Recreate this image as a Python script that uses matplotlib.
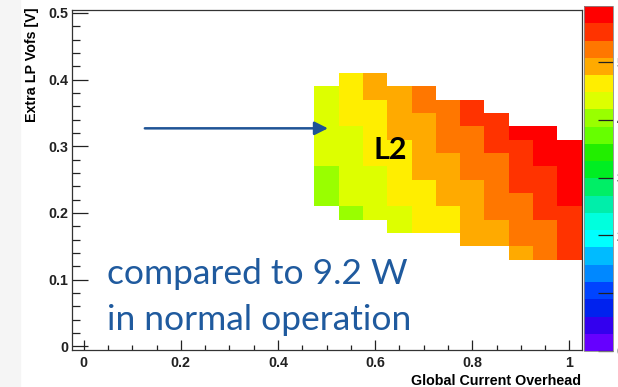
import numpy as np
import matplotlib.pyplot as plt
from matplotlib.colors import ListedColormap, BoundaryNorm
from matplotlib.patches import Rectangle

# bin centres of the 2D histogram
x_centers = [0.50, 0.55, 0.60, 0.65, 0.70, 0.75, 0.80, 0.85, 0.90, 0.95, 1.00]
y_centers = [0.40, 0.38, 0.36, 0.34, 0.32, 0.30, 0.28, 0.26, 0.24, 0.22, 0.20, 0.18, 0.16, 0.14]
nan = np.nan

# power per bin [W], one row per y bin (top first), nan = empty bin
power = [
    # 0.50 0.55 0.60 0.65 0.70 0.75 0.80 0.85 0.90 0.95 1.00
    [nan, 4.6, 4.9, nan, nan, nan, nan, nan, nan, nan, nan],  # 0.40
    [4.3, 4.6, 4.9, 4.9, 5.2, nan, nan, nan, nan, nan, nan],  # 0.38
    [4.3, 4.6, 4.6, 4.9, 5.2, 5.2, 5.5, nan, nan, nan, nan],  # 0.36
    [4.3, 4.6, 4.6, 4.9, 4.9, 5.2, 5.5, 5.5, nan, nan, nan],  # 0.34
    [4.3, 4.3, 4.6, 4.9, 4.9, 5.2, 5.2, 5.5, 5.8, 5.8, nan],  # 0.32
    [4.3, 4.3, 4.6, 4.6, 4.9, 5.2, 5.2, 5.5, 5.5, 5.8, 5.8],  # 0.30
    [4.3, 4.3, 4.6, 4.6, 4.9, 4.9, 5.2, 5.2, 5.5, 5.8, 5.8],  # 0.28
    [4.0, 4.3, 4.3, 4.6, 4.9, 4.9, 5.2, 5.2, 5.5, 5.5, 5.8],  # 0.26
    [4.0, 4.3, 4.3, 4.6, 4.6, 4.9, 4.9, 5.2, 5.5, 5.5, 5.8],  # 0.24
    [4.0, 4.3, 4.3, 4.6, 4.6, 4.9, 4.9, 5.2, 5.2, 5.5, 5.8],  # 0.22
    [nan, 4.0, 4.3, 4.3, 4.6, 4.6, 4.9, 5.2, 5.2, 5.5, 5.5],  # 0.20
    [nan, nan, nan, 4.3, 4.6, 4.6, 4.9, 4.9, 5.2, 5.2, 5.5],  # 0.18
    [nan, nan, nan, nan, nan, nan, 4.9, 4.9, 5.2, 5.2, 5.5],  # 0.16
    [nan, nan, nan, nan, nan, nan, nan, nan, 4.9, 5.2, 5.5],  # 0.14
]

z_min = 0.0
z_max = 5.97
n_levels = 20
cbar_ticks = [0, 1, 2, 3, 4, 5]

# ROOT style rainbow palette, bottom to top
palette = ['#6600ff', '#3300ee', '#0022ee', '#0044ff', '#0088ff', '#00bbff',
           '#00ffff', '#00ffdd', '#00eeaa', '#00ee66', '#00ee22', '#22ee00',
           '#66ff00', '#99ff00', '#ddff00', '#ffee00', '#ffaa00', '#ff7700',
           '#ff3300', '#ff0000']

W, H = 618, 387
fig = plt.figure(figsize=(W / 100, H / 100), dpi=100)
fig.patches.append(Rectangle((0, 0), 20 / W, 1, transform=fig.transFigure,
                             color='#f5f5f5', zorder=0))

def fx(px):
    return px / W

def fy(py):
    return 1 - py / H

ax = fig.add_axes([fx(71.5), fy(350), fx(581.5) - fx(71.5), fy(10) - fy(350)])

dx, dy = 0.05, 0.02
xc = np.array(x_centers)
yc = np.array(y_centers)
x_edges = np.append(xc - dx / 2, xc[-1] + dx / 2)
y_edges = np.append(yc + dy / 2, yc[-1] - dy / 2)
z = np.ma.masked_invalid(np.array(power))

levels = np.linspace(z_min, z_max, n_levels + 1)
cmap = ListedColormap(palette)
norm = BoundaryNorm(levels, cmap.N)
mesh = ax.pcolormesh(x_edges, y_edges, z, cmap=cmap, norm=norm,
                     antialiased=False, edgecolor='face', linewidth=0)

ax.set_xlim(-0.025, 1.025)
ax.set_ylim(-0.0055, 0.5045)
ax.set_xticks([0, 0.2, 0.4, 0.6, 0.8, 1.0])
ax.set_xticklabels(['0', '0.2', '0.4', '0.6', '0.8', '1'])
ax.set_xticks(np.arange(0, 1.001, 0.05), minor=True)
ax.set_yticks([0, 0.1, 0.2, 0.3, 0.4, 0.5])
ax.set_yticklabels(['0', '0.1', '0.2', '0.3', '0.4', '0.5'])
ax.set_yticks(np.arange(0, 0.501, 0.02), minor=True)

lab_font = dict(family='Liberation Sans', weight='bold', size=10.3)
for t in ax.get_xticklabels() + ax.get_yticklabels():
    t.set_fontfamily('Liberation Sans')
    t.set_fontweight('bold')
    t.set_fontsize(10.3)
ax.tick_params(axis='x', which='major', direction='in', length=7.2, width=0.9, pad=4, colors='#222222')
ax.tick_params(axis='x', which='minor', direction='in', length=3.6, width=0.9, colors='#222222')
ax.tick_params(axis='y', which='major', direction='in', length=11.3, width=0.9, pad=2.5, colors='#222222')
ax.tick_params(axis='y', which='minor', direction='in', length=5.8, width=0.9, colors='#222222')
for s in ax.spines.values():
    s.set_linewidth(0.9)
    s.set_color('#333333')

fig.text(fx(32), fy(7), 'Extra LP Vofs [V]', rotation=90, ha='center', va='top', **lab_font)
fig.text(fx(581), fy(381), 'Global Current Overhead', ha='right', va='center', **lab_font)

# colour palette axis
cax = fig.add_axes([fx(584), fy(351), fx(612.7) - fx(584), fy(6) - fy(351)])
cb = fig.colorbar(mesh, cax=cax, ticks=cbar_ticks)
cb.outline.set_linewidth(0.6)
cb.outline.set_edgecolor('#888888')
cax.tick_params(axis='y', which='major', direction='in', length=11, width=0.9,
                pad=3, colors='#222222', right=True, left=False)
cax.minorticks_off()
for t in cax.get_yticklabels():
    t.set_fontfamily('Liberation Sans')
    t.set_fontweight('bold')
    t.set_fontsize(10.3)

# slide annotations
blue = '#1f5a9e'
ax.annotate('', xy=(0.503, 0.327), xytext=(0.126, 0.327),
            arrowprops=dict(arrowstyle='-|>', color='#1f5496', lw=1.8,
                            mutation_scale=20, shrinkA=0, shrinkB=0),
            annotation_clip=False, zorder=5)
fig.text(fx(373), fy(159), 'L2', ha='left', va='baseline', family='Lato',
         weight='bold', size=22, color='black')
fig.text(fx(107), fy(284), 'compared to 9.2 W', ha='left', va='baseline',
         family='Lato', size=25.5, color=blue)
fig.text(fx(107), fy(330), 'in normal operation', ha='left', va='baseline',
         family='Lato', size=25.5, color=blue)

fig.savefig('out.png', dpi=100)
